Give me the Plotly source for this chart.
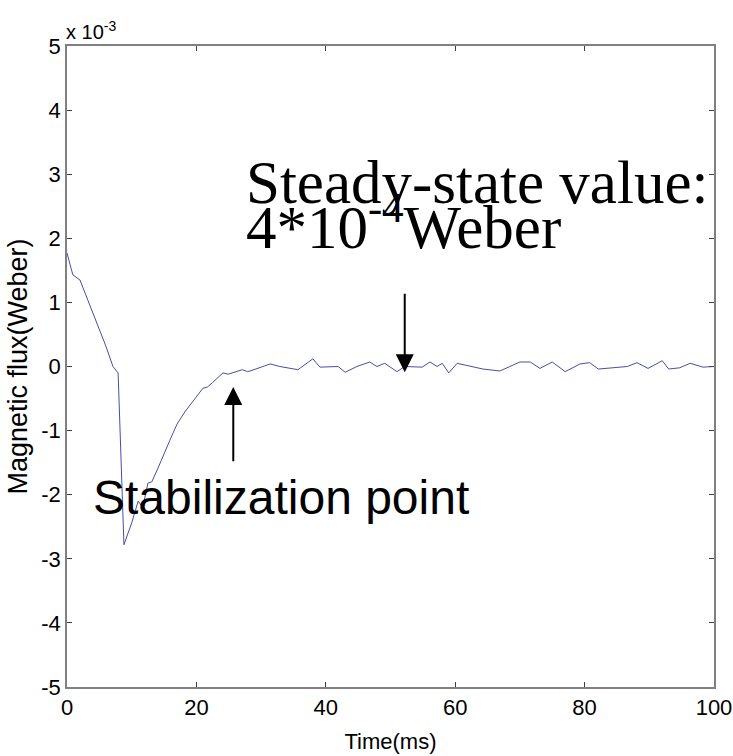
import plotly.graph_objects as go

# Time (ms)
time_ms = [0, 0.9, 2.0, 3.0, 4.0, 5.1, 6.0, 7.1, 7.9, 8.8, 10.0, 11.0, 11.7, 12.5, 13.1,
           14.0, 15.0, 15.9, 17.0, 18.2, 21.0, 21.7, 22.5, 24.1, 24.9, 27.1, 27.9, 28.3,
           31.4, 32.9, 35.7, 38.0, 39.1, 41.9, 43.0, 44.8, 46.8, 47.9, 49.1, 51.0, 52.2,
           54.9, 56.1, 57.2, 58.0, 59.0, 60.3, 62.3, 64.3, 66.9, 70.0, 71.6, 73.1, 75.0,
           77.0, 79.3, 80.8, 82.1, 83.9, 86.6, 88.1, 89.8, 92.0, 93.0, 94.7, 96.3, 98.3, 100.0]
# Magnetic flux (x 10^-3 Weber)
flux_e3 = [1.77, 1.43, 1.35, 1.1, 0.85, 0.57, 0.32, 0.0, -0.1, -2.78, -2.44, -2.1, -2.2, -1.82, -1.8,
           -1.6, -1.35, -1.15, -0.9, -0.71, -0.34, -0.32, -0.25, -0.1, -0.12, -0.05, -0.08, -0.07,
           0.04, 0.0, -0.05, 0.12, -0.01, 0.0, -0.09, 0.0, 0.07, 0.0, 0.05, -0.08, 0.0,
           -0.01, 0.07, 0.0, 0.05, -0.1, 0.05, 0.0, -0.04, -0.07, 0.07, 0.07, -0.03, 0.07,
           -0.08, 0.04, 0.06, -0.04, -0.02, 0.0, 0.06, -0.03, 0.09, -0.04, -0.02, 0.05, -0.01, 0.0]

x_ticks = [0, 20, 40, 60, 80, 100]
x_tick_labels = ["0", "20", "40", "60", "80", "100"]
y_ticks = [-5, -4, -3, -2, -1, 0, 1, 2, 3, 4, 5]
y_tick_labels = ["-5", "-4", "-3", "-2", "-1", "0", "1", "2", "3", "4", "5"]

# annotation anchor points (data units)
steady_arrow = dict(x=52.2, y=-0.09, tail_y=1.16)
stab_arrow = dict(x=25.7, y=-0.32, tail_y=-1.5)

sans = "Liberation Sans, Arial, sans-serif"
serif = "Liberation Serif, Times New Roman, serif"

fig = go.Figure()
fig.add_trace(go.Scatter(x=time_ms, y=flux_e3, mode="lines",
                         line=dict(color="#4c4ca6", width=1), showlegend=False))

axis_common = dict(showline=True, linecolor="#808080", linewidth=1.5, mirror="ticks",
                   ticks="inside", ticklen=5, tickcolor="#404040", tickwidth=1,
                   showgrid=False, zeroline=False, automargin=False,
                   tickfont=dict(family=sans, size=22, color="black"))

fig.update_xaxes(range=[0, 100], tickvals=x_ticks, ticktext=x_tick_labels,
                 title=dict(text="Time(ms)", font=dict(family=sans, size=22, color="black"), standoff=14),
                 **axis_common)
fig.update_yaxes(range=[-5, 5], tickvals=y_ticks, ticktext=y_tick_labels, **axis_common)

# y-axis title placed as rotated text left of the tick labels
fig.add_annotation(x=0, y=0.5, xref="paper", yref="paper", xanchor="center", yanchor="middle",
                   text="Magnetic flux(Weber)", textangle=-90, showarrow=False, xshift=-50,
                   font=dict(family=sans, size=27, color="black"))

fig.add_annotation(x=0, y=1, xref="paper", yref="paper", xanchor="left", yanchor="bottom",
                   text="x 10<sup>-3</sup>", showarrow=False, xshift=-3, yshift=1,
                   font=dict(family=sans, size=20, color="black"))

fig.add_annotation(x=27.3, y=2.87, xref="x", yref="y", xanchor="left", yanchor="middle",
                   text="Steady-state value:", showarrow=False,
                   font=dict(family=serif, size=61, color="black"))
fig.add_annotation(x=27.3, y=2.25, xref="x", yref="y", xanchor="left", yanchor="middle",
                   text="4*10<sup>-4</sup>Weber", showarrow=False,
                   font=dict(family=serif, size=61, color="black"))

fig.add_annotation(x=3.7, y=-2.05, xref="x", yref="y", xanchor="left", yanchor="middle",
                   text="Stabilization point", showarrow=False,
                   font=dict(family=sans, size=48, color="black"))

for a in (steady_arrow, stab_arrow):
    fig.add_annotation(x=a["x"], y=a["y"], ax=a["x"], ay=a["tail_y"], xref="x", yref="y",
                       axref="x", ayref="y", text="", showarrow=True, arrowhead=2,
                       arrowsize=1.8, arrowwidth=2, arrowcolor="black")

fig.update_layout(width=733, height=756, margin=dict(l=67, r=19, t=46, b=69),
                  paper_bgcolor="white", plot_bgcolor="white")

# remove the default page margin so the figure fills the window exactly
fig.write_html("out.html", config={"displayModeBar": False},
               post_script="document.body.style.margin='0px';")
